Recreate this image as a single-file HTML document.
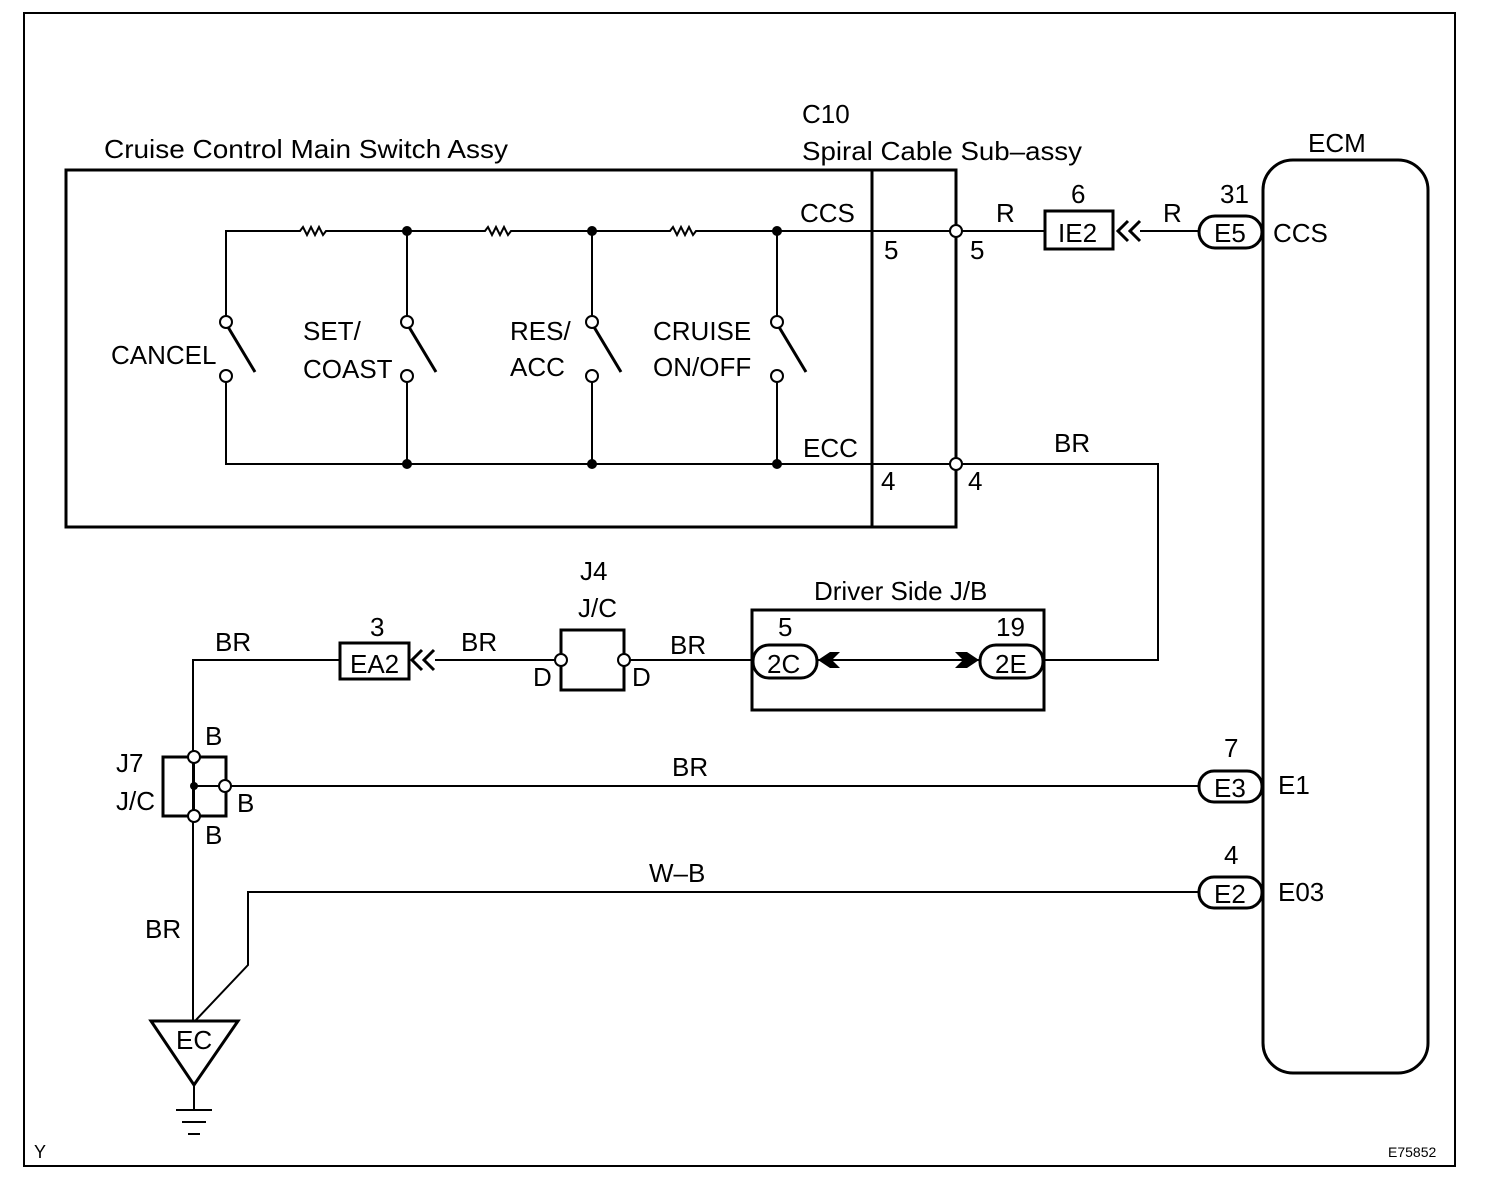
<!DOCTYPE html>
<html><head><style>body{margin:0;background:#fff}svg{display:block}text{font-family:"Liberation Sans",Arial,sans-serif;fill:#000}</style></head><body>
<svg width="1504" height="1184" viewBox="0 0 1504 1184" xmlns="http://www.w3.org/2000/svg">
<g fill="none" stroke="#000">
<rect x="24" y="13" width="1431" height="1153" stroke-width="2"/>
<rect x="66" y="170" width="890" height="357" stroke-width="3"/>
<line x1="872" y1="170" x2="872" y2="527" stroke-width="3"/>
<g stroke-width="2">
<path d="M226 316 V231 H300 l3 -4 l4 8 l4 -8 l4 8 l4 -8 l4 8 l3 -4 H485 l3 -4 l4 8 l4 -8 l4 8 l4 -8 l4 8 l3 -4 H670 l3 -4 l4 8 l4 -8 l4 8 l4 -8 l4 8 l3 -4 H1045"/>
<path d="M226 382 V464 H1158 V660 H1043"/>
<line x1="407" y1="231" x2="407" y2="316"/><line x1="407" y1="382" x2="407" y2="464"/>
<line x1="592" y1="231" x2="592" y2="316"/><line x1="592" y1="382" x2="592" y2="464"/>
<line x1="777" y1="231" x2="777" y2="316"/><line x1="777" y1="382" x2="777" y2="464"/>
<line x1="1140" y1="231" x2="1199" y2="231"/>
<line x1="817" y1="660" x2="980" y2="660"/>
<line x1="624" y1="660" x2="753" y2="660"/>
<line x1="435" y1="660" x2="561" y2="660"/>
<path d="M340 660 H193 V1021"/>
<line x1="194" y1="786" x2="1199" y2="786"/>
<path d="M1199 892 H248 V965 L195 1021"/>
<path d="M194 1085 V1110 M176 1110 H212 M182 1122 H206 M188 1134 H200"/>
</g>
<g stroke-width="3">
<line x1="228" y1="327" x2="255" y2="372"/>
<line x1="409" y1="327" x2="436" y2="372"/>
<line x1="594" y1="327" x2="621" y2="372"/>
<line x1="779" y1="327" x2="806" y2="372"/>
<rect x="1045" y="211" width="68" height="38"/>
<path d="M1128 221 L1118 231 L1128 241 M1140 221 L1130 231 L1140 241"/>
<rect x="1199" y="216" width="63" height="32" rx="16"/>
<rect x="1263" y="160" width="165" height="913" rx="30"/>
<rect x="752" y="610" width="292" height="100"/>
<rect x="753" y="645" width="64" height="33" rx="16"/>
<rect x="980" y="645" width="63" height="33" rx="16"/>
<rect x="561" y="630" width="63" height="60"/>
<rect x="340" y="643" width="69" height="36"/>
<path d="M422 650 L412 660 L422 670 M434 650 L424 660 L434 670"/>
<rect x="163" y="757" width="63" height="59"/>
<rect x="1199" y="771" width="63" height="31" rx="15"/>
<rect x="1199" y="877" width="63" height="31" rx="15"/>
<path d="M151 1021 H238 L194 1085 Z"/>
</g>
<line x1="194" y1="757" x2="194" y2="816" stroke-width="2"/>
</g>
<g fill="#000">
<circle cx="407" cy="231" r="5"/><circle cx="592" cy="231" r="5"/><circle cx="777" cy="231" r="5"/>
<circle cx="407" cy="464" r="5"/><circle cx="592" cy="464" r="5"/><circle cx="777" cy="464" r="5"/>
<circle cx="194" cy="786" r="4"/>
<path d="M818 660 L830 652 L840 652 L832 660 L840 668 L830 668 Z"/>
<path d="M979 660 L967 652 L955 652 L963 660 L955 668 L967 668 Z"/>
</g>
<g fill="#fff" stroke="#000" stroke-width="2">
<circle cx="226" cy="322" r="6"/><circle cx="226" cy="376" r="6"/>
<circle cx="407" cy="322" r="6"/><circle cx="407" cy="376" r="6"/>
<circle cx="592" cy="322" r="6"/><circle cx="592" cy="376" r="6"/>
<circle cx="777" cy="322" r="6"/><circle cx="777" cy="376" r="6"/>
<circle cx="956" cy="231" r="6"/><circle cx="956" cy="464" r="6"/>
<circle cx="561" cy="660" r="6"/><circle cx="624" cy="660" r="6"/>
<circle cx="194" cy="757" r="6"/><circle cx="225" cy="786" r="6"/><circle cx="194" cy="816" r="6"/>
</g>
<g font-size="26">
<text x="104" y="158" textLength="404" lengthAdjust="spacingAndGlyphs">Cruise Control Main Switch Assy</text>
<text x="802" y="123">C10</text>
<text x="802" y="160" textLength="280" lengthAdjust="spacingAndGlyphs">Spiral Cable Sub–assy</text>
<text x="1308" y="152">ECM</text>
<text x="800" y="222">CCS</text>
<text x="803" y="457">ECC</text>
<text x="884" y="259">5</text><text x="970" y="259">5</text>
<text x="881" y="490">4</text><text x="968" y="490">4</text>
<text x="996" y="222">R</text><text x="1163" y="222">R</text>
<text x="1071" y="203">6</text><text x="1220" y="203">31</text>
<text x="1058" y="242">IE2</text><text x="1214" y="242">E5</text>
<text x="1273" y="242">CCS</text>
<text x="111" y="364">CANCEL</text>
<text x="303" y="340">SET/</text><text x="303" y="378">COAST</text>
<text x="510" y="340">RES/</text><text x="510" y="376">ACC</text>
<text x="653" y="340">CRUISE</text><text x="653" y="376">ON/OFF</text>
<text x="1054" y="452">BR</text>
<text x="814" y="600">Driver Side J/B</text>
<text x="778" y="636">5</text><text x="996" y="636">19</text>
<text x="767" y="673">2C</text><text x="995" y="673">2E</text>
<text x="580" y="580">J4</text><text x="578" y="617">J/C</text>
<text x="533" y="686">D</text><text x="632" y="686">D</text>
<text x="670" y="654">BR</text><text x="461" y="651">BR</text><text x="215" y="651">BR</text>
<text x="370" y="636">3</text><text x="350" y="673">EA2</text>
<text x="116" y="772">J7</text><text x="116" y="810">J/C</text>
<text x="205" y="745">B</text><text x="237" y="812">B</text><text x="205" y="844">B</text>
<text x="672" y="776">BR</text><text x="649" y="882">W–B</text>
<text x="1224" y="757">7</text><text x="1224" y="864">4</text>
<text x="1214" y="797">E3</text><text x="1214" y="903">E2</text>
<text x="1278" y="794">E1</text><text x="1278" y="901">E03</text>
<text x="145" y="938">BR</text>
<text x="176" y="1049">EC</text>
</g>
<text x="34" y="1158" font-size="18">Y</text>
<text x="1388" y="1157" font-size="14">E75852</text>
</svg>
</body></html>
